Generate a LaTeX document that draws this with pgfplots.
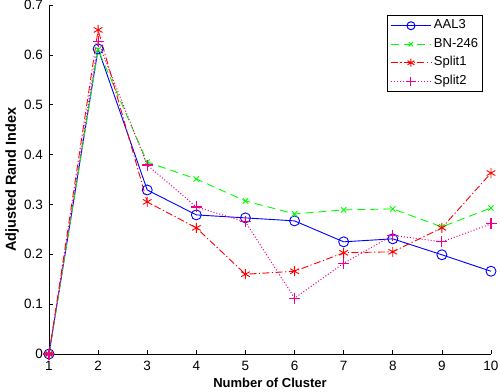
\documentclass[border=0pt]{standalone}
\usepackage{pgfplots}
\pgfplotsset{compat=1.18}
\usepackage{fontspec}
\setmainfont{Liberation Sans}
\begin{document}
\begin{tikzpicture}
\begin{axis}[
  name=ax,
  scale only axis,
  width=442pt, height=349pt,
  xmin=1, xmax=10, ymin=0, ymax=0.7,
  xtick={1,...,10},
  ytick={0,0.1,...,0.7},
  yticklabel style={/pgf/number format/fixed,/pgf/number format/precision=1, xshift=-2.5pt},
  xticklabel style={yshift=-4pt},
  axis x line=bottom, axis y line=left,
  axis line style={-, line width=0.7pt},
  tick align=inside,
  major tick length=4pt,
  tick style={black, line width=0.7pt},
  /pgf/number format/assume math mode=true,
  tick label style={font=\fontsize{13.5}{15}\selectfont},
  xlabel={\textbf{Number of Cluster}},
  ylabel={\textbf{Adjusted Rand Index}},
  xlabel style={font=\fontsize{13}{15}\selectfont, at={(axis description cs:0.5,-0.083)}, anchor=center},
  ylabel style={font=\fontsize{14.5}{16}\selectfont, at={(axis description cs:-0.0837,0.5)}, anchor=center},
  legend style={at={(0.765,0.971)}, anchor=north west, font=\fontsize{13}{15}\selectfont, draw=black, inner sep=3pt, row sep=4pt, column sep=1pt, line width=0.7pt,
    nodes={inner sep=1.5pt, text height=9pt, text depth=2.5pt}},
  legend cell align=left,
  legend image code/.code={\draw[mark repeat=2,mark phase=2] plot coordinates {(0pt,0pt) (20pt,0pt) (40pt,0pt)};},
  legend image post style={line width=1pt, mark options={solid, scale=0.8}},
  clip=false,
]
\addplot[blue, line width=0.9pt, mark=o, mark size=5pt, mark options={solid}] coordinates {
(1,0) (2,0.612) (3,0.329) (4,0.279) (5,0.273) (6,0.267) (7,0.225) (8,0.231) (9,0.199) (10,0.166)};
\addlegendentry{AAL3}
\addplot[green, line width=0.9pt, dash pattern=on 8pt off 5pt, mark=x, mark size=3.8pt, mark options={solid}] coordinates {
(1,0) (2,0.610) (3,0.385) (4,0.351) (5,0.307) (6,0.281) (7,0.289) (8,0.291) (9,0.255) (10,0.293)};
\addlegendentry{BN-246}
\addplot[red, line width=0.9pt, dash pattern=on 7pt off 2.5pt on 1.2pt off 2.5pt, mark=asterisk, mark size=5pt, mark options={solid}] coordinates {
(1,0) (2,0.650) (3,0.305) (4,0.253) (5,0.160) (6,0.166) (7,0.203) (8,0.205) (9,0.253) (10,0.363)};
\addlegendentry{Split1}
\addplot[magenta, line width=1pt, dash pattern=on 1pt off 2pt, mark=+, mark size=5.5pt, mark options={solid, line width=1.2pt, magenta}] coordinates {
(1,0) (2,0.626) (3,0.379) (4,0.295) (5,0.265) (6,0.112) (7,0.182) (8,0.238) (9,0.225) (10,0.261)};
\addlegendentry{Split2}
\end{axis}
\pgfresetboundingbox
\path ([xshift=-49pt,yshift=-37pt]ax.south west) rectangle ([xshift=9pt,yshift=5pt]ax.north east);
\end{tikzpicture}
\end{document}
